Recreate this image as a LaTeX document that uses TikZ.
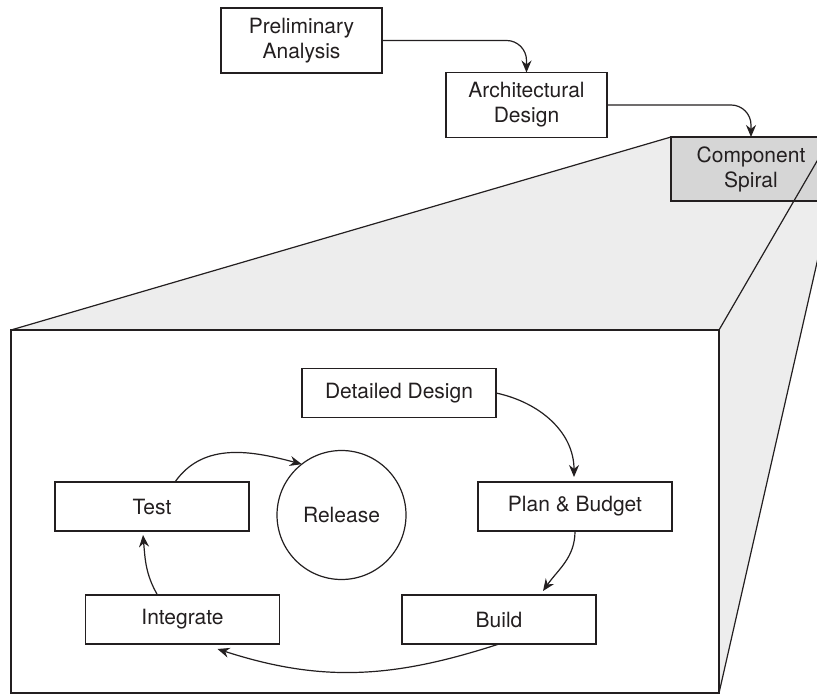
\documentclass[tikz,border=0pt]{standalone}
\usepackage{fontspec}
\setmainfont{TeX Gyre Heros}
\usetikzlibrary{arrows.meta,
                backgrounds,positioning}
\definecolor{sidegray}{HTML}{EDEDED}
\definecolor{boxgray}{HTML}{D6D6D6}
\definecolor{inkgray}{HTML}{231F20}

\begin{document}
\begin{tikzpicture}[x=0.5pt,y=-0.5pt,line width=0.6pt,draw=inkgray,
  every node/.style={font=\fontsize{10.5}{12.5}\selectfont,text=inkgray},
  phase/.style={draw,fill=white,align=center,minimum width=80.5pt,minimum height=32.5pt,inner sep=0pt,outer sep=0pt},
  task/.style={draw,fill=white,minimum width=97pt,minimum height=24.5pt,inner sep=0pt,outer sep=0pt},
  flow/.style={-{Stealth[length=6pt,width=5pt]}}]
\useasboundingbox (0,0) rectangle (817,694);
%\draw[help lines] (0,0) grid (817,694);
\node[phase] (prelim) at (301.5,40.5) {Preliminary\\Analysis};
\node[phase] (arch) at (526.5,105) {Architectural\\Design};
\node[phase,fill=boxgray,minimum width=80pt,minimum height=32pt] (comp) at (751,169) {Component\\Spiral};
\node[draw,fill=white,minimum width=354pt,minimum height=181.5pt,inner sep=0pt,outer sep=0pt] (zoom) at (365,511.5) {};
\node[task] (detail) at (399,393) {Detailed Design};
\node[task] (plan) at (575,506.5) {Plan \& Budget};
\node[task] (build) at (499,619.5) {Build};
\node[task] (integ) at (182.5,619.5) {Integrate};
\node[task] (test) at (152,506.5) {Test};
\node[draw,circle,minimum size=64.5pt,inner sep=0pt,outer sep=0pt] (release) at (341.5,515) {Release};
\begin{scope}[on background layer]
\fill[sidegray] (zoom.north west) -- (comp.north west) -- (comp.north east) -- (comp.south east) -- (zoom.south east) -- (zoom.north east) -- cycle;
\end{scope}
\draw (zoom.north west) -- (comp.north west);
\draw (comp.north east) -- (zoom.north east);
\draw (comp.south east) -- (zoom.south east);
\draw[flow,rounded corners=10pt] (prelim.east) -| (arch.north);
\draw[flow,rounded corners=10pt] (arch.east) -| (comp.north);
\draw[flow] (detail.east) to[out=-12,in=90] ([shift={(-0.5pt,2.5pt)}]plan.north);
\draw[flow] (plan.south) to[out=-90,in=55] ([shift={(22pt,2pt)}]build.north);
\draw[flow] (build.south) to[out=-162,in=-18] ([shift={(17.5pt,-2.5pt)}]integ.south);
\draw[flow] ([xshift=-12.5pt]integ.north) to[out=120,in=-85] ([shift={(-4.5pt,-2pt)}]test.south);
\draw[flow] ([xshift=11.5pt]test.north) to[out=55,in=165] (release.128);
\end{tikzpicture}
\end{document}
